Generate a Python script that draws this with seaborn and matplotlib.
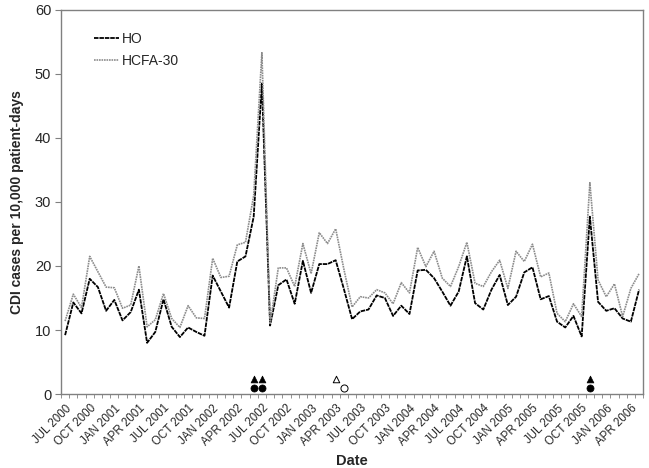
import numpy as np
import pandas as pd
import matplotlib.pyplot as plt
import seaborn as sns

# monthly series, JUL 2000 .. MAY 2006
months = pd.date_range("2000-07-01", "2006-05-01", freq="MS")
month_labels = [d.strftime("%b %Y").upper() for d in months]

ho = [9.2, 14.3, 12.6, 18.0, 16.7, 13.0, 14.7, 11.5, 12.8, 16.3,
      8.0, 9.7, 14.8, 10.5, 8.9, 10.4, 9.7, 9.1, 18.5, 16.0,
      13.5, 20.7, 21.5, 27.7, 48.5, 10.7, 17.0, 17.9, 14.1, 20.8,
      15.8, 20.3, 20.3, 20.9, 16.4, 11.7, 12.9, 13.2, 15.4, 15.0,
      12.2, 13.8, 12.5, 19.3, 19.4, 18.1, 16.0, 13.8, 16.0, 21.5,
      14.2, 13.2, 16.3, 18.6, 13.9, 15.2, 19.0, 19.8, 14.8, 15.3,
      11.3, 10.4, 12.2, 9.0, 27.7, 14.4, 13.0, 13.4, 11.8, 11.3,
      16.3]
hcfa30 = [11.4, 15.6, 13.5, 21.5, 19.1, 16.7, 16.6, 13.4, 13.9, 20.0,
          10.5, 11.6, 15.7, 11.8, 10.4, 13.8, 11.9, 11.8, 21.2, 18.2,
          18.4, 23.3, 23.7, 31.0, 53.3, 10.9, 19.7, 19.7, 16.8, 23.5,
          18.8, 25.2, 23.5, 25.8, 19.5, 13.6, 15.2, 15.0, 16.3, 15.8,
          14.1, 17.4, 15.8, 22.9, 19.9, 22.3, 18.1, 16.8, 19.9, 23.7,
          17.3, 16.8, 19.1, 20.9, 16.5, 22.3, 20.7, 23.4, 18.3, 18.9,
          12.6, 11.3, 14.1, 12.1, 33.0, 17.8, 15.2, 17.2, 12.1, 16.5,
          18.8]

# event markers (month index, y level)
filled_tri_idx = [23, 24, 64]
filled_circ_idx = [23, 24, 64]
open_tri_idx = [33]
open_circ_idx = [34]
tri_level = 2.4
circ_level = 0.9

df = pd.DataFrame({"idx": np.arange(len(months)), "HO": ho, "HCFA-30": hcfa30})

sns.set_style("ticks")
plt.rcParams["font.family"] = ["Liberation Sans", "DejaVu Sans"]

fig = plt.figure(figsize=(6.49, 4.68), dpi=100)
ax = fig.add_axes([0.094, 0.158, 0.897, 0.821])

sns.lineplot(data=df, x="idx", y="HO", ax=ax, color="black", linewidth=1.3,
             linestyle=(0, (2.5, 0.5)), label="HO")
sns.lineplot(data=df, x="idx", y="HCFA-30", ax=ax, color="#8c8c8c", linewidth=1.2,
             linestyle=(0, (1, 0.5)), label="HCFA-30")

sns.scatterplot(x=filled_tri_idx, y=[tri_level] * len(filled_tri_idx), ax=ax,
                marker="^", color="black", s=24, edgecolor="black", linewidth=0.5, legend=False)
sns.scatterplot(x=filled_circ_idx, y=[circ_level] * len(filled_circ_idx), ax=ax,
                marker="o", color="black", s=26, edgecolor="black", linewidth=0.5, legend=False)
sns.scatterplot(x=open_tri_idx, y=[tri_level] * len(open_tri_idx), ax=ax,
                marker="^", facecolor="white", s=22, edgecolor="black", linewidth=0.7, legend=False)
sns.scatterplot(x=open_circ_idx, y=[circ_level] * len(open_circ_idx), ax=ax,
                marker="o", facecolor="white", s=26, edgecolor="black", linewidth=0.7, legend=False)

ax.set_xlim(-0.5, len(months) - 0.5)
ax.set_ylim(0, 60)
ax.set_yticks(range(0, 61, 10))
ax.tick_params(axis="y", labelsize=10.5, length=4, color="#808080", pad=3)

major = list(range(0, len(months), 3))
ax.set_xticks(major)
ax.set_xticklabels([month_labels[i] for i in major], rotation=45, ha="right",
                   rotation_mode="anchor", fontsize=8.3)
ax.set_xticks(np.arange(-0.5, len(months), 1), minor=True)
ax.tick_params(axis="x", which="major", length=0, pad=6)
ax.tick_params(axis="x", which="minor", length=3, color="#808080")

for sp in ax.spines.values():
    sp.set_visible(True)
    sp.set_color("#808080")
    sp.set_linewidth(1.0)

ax.set_xlabel("Date", fontsize=10.5, fontweight="bold", labelpad=4)
ax.set_ylabel("CDI cases per 10,000 patient-days", fontsize=10, fontweight="bold", labelpad=8)

ax.legend(loc="upper left", bbox_to_anchor=(0.035, 0.975), frameon=False, fontsize=10,
          handlelength=1.8, handletextpad=0.2, labelspacing=0.6)

fig.savefig("out.png", dpi=100)
